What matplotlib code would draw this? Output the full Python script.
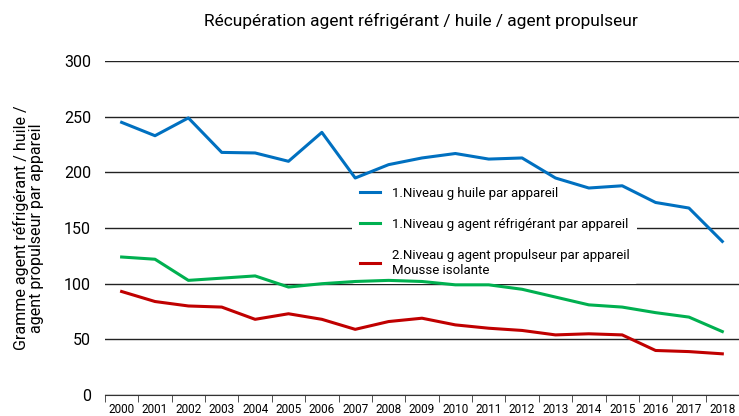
import matplotlib
matplotlib.use('Agg')
import matplotlib.pyplot as plt
import numpy as np

plt.rcParams['font.family'] = ['Roboto', 'DejaVu Sans']

years = [str(y) for y in range(2000, 2019)]
huile = [245, 233, 249, 218, 217.5, 210, 236, 195, 207, 213, 217, 212, 213, 195, 186, 188, 173, 168, 138]
refrigerant = [124, 122, 103, 105, 107, 97, 100, 102, 103, 102, 99, 99, 95, 88, 81, 79, 74, 70, 57]
propulseur = [93, 84, 80, 79, 68, 73, 68, 59, 66, 69, 63, 60, 58, 54, 55, 54, 40, 39, 37]

labels = ['1.Niveau g huile par appareil',
          '1.Niveau g agent réfrigérant par appareil',
          '2.Niveau g agent propulseur par appareil\nMousse isolante']
colors = ['#0070c0', '#00b050', '#c00000']

fig = plt.figure(figsize=(7.39, 4.16), dpi=100)
ax = fig.add_axes([0.142, 0.0505, 0.858, 0.8025])

x = np.arange(len(years))
for vals, lab, c in zip([huile, refrigerant, propulseur], labels, colors):
    ax.plot(x, vals, color=c, lw=2.2, label=lab, zorder=3)

ax.set_ylim(0, 300)
ax.set_xlim(-0.5, len(years) - 0.5)
ax.set_yticks(range(0, 301, 50))
ax.yaxis.grid(True, color='#222222', lw=1)
ax.set_axisbelow(True)
ax.tick_params(axis='y', length=0, labelsize=11.5, pad=10)

ax.set_xticks(x)
ax.set_xticklabels(years, fontsize=8.5)
ax.set_xticks(np.arange(-0.5, len(years)), minor=True)
ax.tick_params(axis='x', which='major', length=0, pad=6)
ax.tick_params(axis='x', which='minor', length=5, color='#333333')

for s in ['top', 'right', 'left']:
    ax.spines[s].set_visible(False)
ax.spines['bottom'].set_color('#333333')

ax.set_ylabel('Gramme agent réfrigérant / huile /\nagent propulseur par appareil',
              fontsize=11.5, labelpad=14, linespacing=1.0)
fig.suptitle('Récupération agent réfrigérant / huile / agent propulseur',
             fontsize=12.5, y=0.97, x=0.57)

leg = ax.legend(loc='upper left', bbox_to_anchor=(0.39, 0.647), frameon=True,
                fontsize=9.5, handlelength=1.5, labelspacing=1.35,
                borderpad=0.6, handletextpad=0.9, borderaxespad=0)
leg.get_frame().set_facecolor('white')
leg.get_frame().set_edgecolor('none')
leg.get_frame().set_alpha(1)
leg.set_zorder(2.5)

fig.savefig('out.png', dpi=100)
